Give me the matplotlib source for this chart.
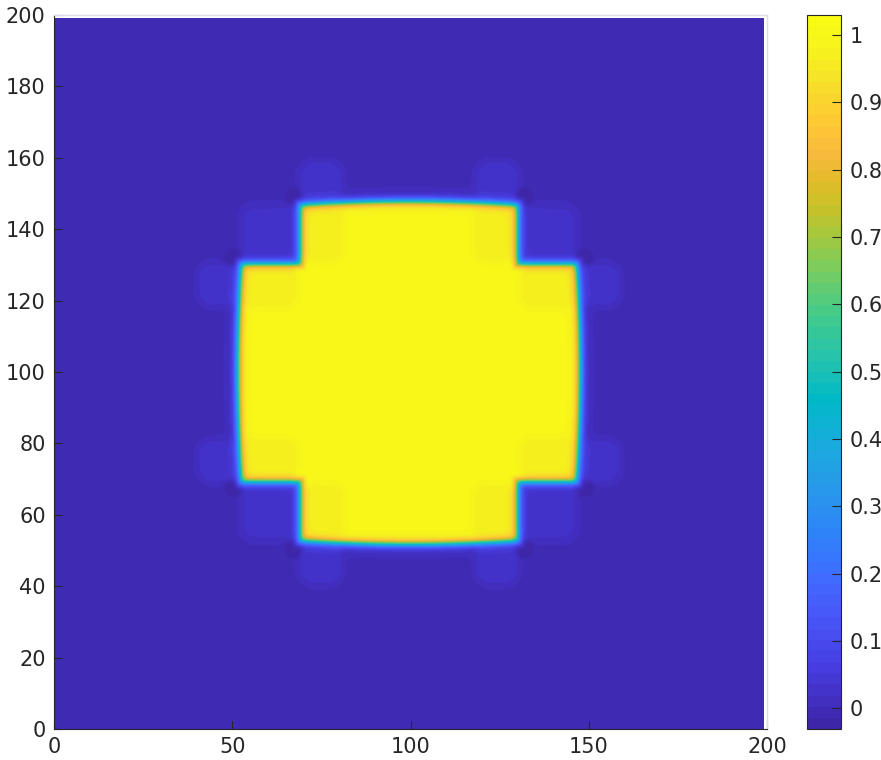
import numpy as np
import matplotlib
matplotlib.use("Agg")
import matplotlib.pyplot as plt
from matplotlib.colors import LinearSegmentedColormap

# ---------------- data ----------------
parula_anchors = [
    (0.2422, 0.1504, 0.6603), (0.2611, 0.1893, 0.7719), (0.2749, 0.2330, 0.8692),
    (0.2809, 0.2875, 0.9305), (0.2798, 0.3421, 0.9702), (0.2670, 0.3973, 0.9924),
    (0.2250, 0.4559, 0.9985), (0.1818, 0.5138, 0.9766), (0.1716, 0.5655, 0.9393),
    (0.1446, 0.6135, 0.9050), (0.1152, 0.6584, 0.8804), (0.0628, 0.6972, 0.8355),
    (0.0018, 0.7275, 0.7752), (0.1023, 0.7510, 0.7088), (0.1853, 0.7721, 0.6379),
    (0.2491, 0.7922, 0.5546), (0.3671, 0.8021, 0.4563), (0.5044, 0.7993, 0.3480),
    (0.6433, 0.7839, 0.2423), (0.7710, 0.7604, 0.1658), (0.8804, 0.7372, 0.1650),
    (0.9689, 0.7292, 0.2373), (0.9966, 0.7740, 0.2138), (0.9807, 0.8342, 0.1787),
    (0.9601, 0.8963, 0.1507), (0.9680, 0.9552, 0.1116), (0.9786, 0.9839, 0.0805),
]
x_ticks = [0, 50, 100, 150, 200]
y_ticks = [0, 20, 40, 60, 80, 100, 120, 140, 160, 180, 200]
cbar_ticks = [0, 0.1, 0.2, 0.3, 0.4, 0.5, 0.6, 0.7, 0.8, 0.9, 1]
cbar_labels = ["0", "0.1", "0.2", "0.3", "0.4", "0.5", "0.6", "0.7", "0.8", "0.9", "1"]
axis_limits = [0, 200]
grid_extent = [0, 199]
color_limits = [-0.031, 1.030]

# plus-shaped phase region (centre, arm half-widths)
shape_center = [99.5, 99.7]
outer_half = 47.0
inner_half = 30.5
edge_bulge = 1.0
interface_width = 1.3

# faint features, one quadrant (|dx|, |dy| relative to the centre), mirrored to all four
halo_boxes = [        # dx0, dx1, dy0, dy1, amplitude  (outside, lighter blue)
    (19.0, 30.5, 46.5, 59.0, 0.030),
    (30.5, 47.0, 30.5, 47.0, 0.022),
    (46.5, 59.0, 19.0, 30.5, 0.030),
]
inner_boxes = [       # inside, slightly darker yellow
    (18.0, 30.5, 31.0, 47.0, -0.028),
    (31.0, 47.0, 18.0, 30.5, -0.028),
]
dark_dots = [         # dx, dy, radius, amplitude
    (32.3, 49.3, 2.6, -0.04),
    (49.3, 32.3, 2.6, -0.04),
]
bright_dots = [
    (30.0, 30.0, 3.0, 0.03),
]

# ---------------- build the field ----------------
cmap = LinearSegmentedColormap.from_list("parula", parula_anchors, N=64)

n = 900
gx = np.linspace(grid_extent[0], grid_extent[1], n)
X, Y = np.meshgrid(gx, gx)
DX = X - shape_center[0]
DY = Y - shape_center[1]
ax_ = np.abs(DX)
ay_ = np.abs(DY)


def smax(a, b, k):
    m = np.maximum(a, b)
    return m + k * np.log(np.exp((a - m) / k) + np.exp((b - m) / k))


def smin(a, b, k):
    return -smax(-a, -b, k)


bx = np.clip(1 - (ax_ / inner_half) ** 2, 0, None)
by = np.clip(1 - (ay_ / inner_half) ** 2, 0, None)
d_vert = smax(ax_ - inner_half, ay_ - (outer_half + edge_bulge * bx), 0.6)
d_horz = smax(ax_ - (outer_half + edge_bulge * by), ay_ - inner_half, 0.6)
dist = smin(d_vert, d_horz, 0.5)
phi = 0.5 * (1 - np.tanh(dist / interface_width))


def rounded_box(u, v, u0, u1, v0, v1, r=4.0, e=1.2):
    cu, cv = (u0 + u1) / 2, (v0 + v1) / 2
    hu, hv = (u1 - u0) / 2, (v1 - v0) / 2
    qu = np.abs(u - cu) - hu + r
    qv = np.abs(v - cv) - hv + r
    d = np.hypot(np.maximum(qu, 0), np.maximum(qv, 0)) + np.minimum(np.maximum(qu, qv), 0) - r
    return 0.5 * (1 - np.tanh(d / e))


halo = np.zeros_like(phi)
for (u0, u1, v0, v1, amp) in halo_boxes:
    halo = np.maximum(halo, amp * rounded_box(ax_, ay_, u0, u1, v0, v1))
inner = np.zeros_like(phi)
for (u0, u1, v0, v1, amp) in inner_boxes:
    inner = np.minimum(inner, amp * rounded_box(ax_, ay_, u0, u1, v0, v1))
dots = np.zeros_like(phi)
for (u, v, r, amp) in dark_dots:
    dots += amp * np.exp(-(((ax_ - u) ** 2 + (ay_ - v) ** 2) / r ** 2) ** 2)
bright = np.zeros_like(phi)
for (u, v, r, amp) in bright_dots:
    bright += amp * np.exp(-(((ax_ - u) ** 2 + (ay_ - v) ** 2) / r ** 2) ** 2)

field = phi + (1 - phi) * (halo + dots) + phi * (inner + bright)

# ---------------- draw ----------------
plt.rcParams["font.family"] = ["DejaVu Sans"]
fig = plt.figure(figsize=(8.81, 7.60), dpi=100)
ax = fig.add_axes([54 / 881, 31 / 760, 713 / 881, 714 / 760])
cax = fig.add_axes([807 / 881, 31 / 760, 34 / 881, 714 / 760])

im = ax.imshow(field, origin="lower", cmap=cmap, vmin=color_limits[0], vmax=color_limits[1],
               extent=[grid_extent[0], grid_extent[1], grid_extent[0], grid_extent[1]],
               aspect="auto", interpolation="bilinear")
ax.set_xlim(axis_limits)
ax.set_ylim(axis_limits)
ax.set_xticks(x_ticks)
ax.set_yticks(y_ticks)
tick_col = "#262626"
ax.tick_params(direction="in", length=5.5, width=0.8, colors=tick_col, labelsize=15,
               pad=6, top=False, right=False)
for s in ["left", "bottom"]:
    ax.spines[s].set_color(tick_col)
    ax.spines[s].set_linewidth(0.8)
for s in ["top", "right"]:
    ax.spines[s].set_color("#dcdbe8")
    ax.spines[s].set_linewidth(1.0)

cb = fig.colorbar(im, cax=cax)
cb.set_ticks(cbar_ticks)
cb.set_ticklabels(cbar_labels)
cax.tick_params(direction="in", length=6.5, width=0.8, colors=tick_col, labelsize=15, pad=6)
cb.outline.set_edgecolor(tick_col)
cb.outline.set_linewidth(0.8)

fig.savefig("out.png", dpi=100)
